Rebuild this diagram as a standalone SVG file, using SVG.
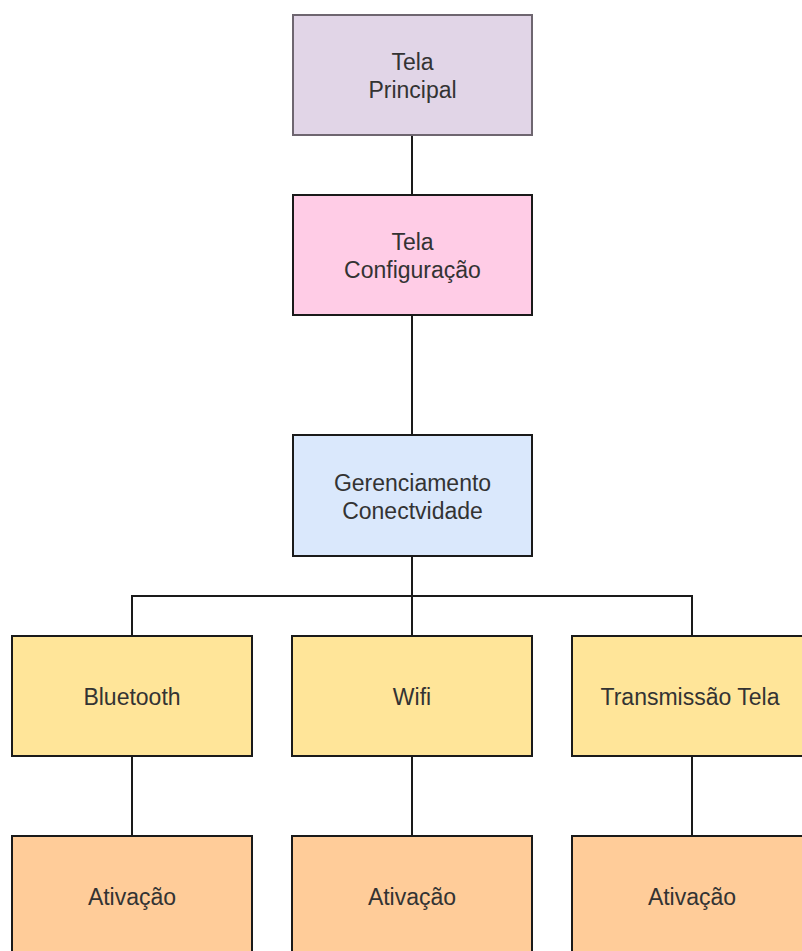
<svg xmlns="http://www.w3.org/2000/svg" width="802" height="951" viewBox="0 0 802 951">
<style>
.box{stroke:#1a1a1a;stroke-width:2}
.lbl{font-family:"Liberation Sans",Arial,sans-serif;font-size:23px;fill:#333;text-anchor:middle}
.conn{stroke:#1a1a1a;stroke-width:2;fill:none}
</style>
<rect width="802" height="951" fill="#fff"/>
<g id="connectors">
<line class="conn" x1="412" y1="135" x2="412" y2="195"/>
<line class="conn" x1="412" y1="315" x2="412" y2="435"/>
<polyline class="conn" points="412,556 412,596"/>
<polyline class="conn" points="132,636 132,596 692,596 692,636"/>
<line class="conn" x1="412" y1="596" x2="412" y2="636"/>
<line class="conn" x1="132" y1="756" x2="132" y2="836"/>
<line class="conn" x1="412" y1="756" x2="412" y2="836"/>
<line class="conn" x1="692" y1="756" x2="692" y2="836"/>
</g>
<g id="tela-principal">
<rect class="box" x="293" y="15" width="239" height="120" fill="#e1d5e7" style="stroke:#6e6670"/>
<text class="lbl" x="412.5" y="70">Tela</text>
<text class="lbl" x="412.5" y="98">Principal</text>
</g>
<g id="tela-configuracao">
<rect class="box" x="293" y="195" width="239" height="120" fill="#ffcce6"/>
<text class="lbl" x="412.5" y="250">Tela</text>
<text class="lbl" x="412.5" y="278">Configuração</text>
</g>
<g id="gerenciamento">
<rect class="box" x="293" y="435" width="239" height="121" fill="#dae8fc"/>
<text class="lbl" x="412.5" y="491">Gerenciamento</text>
<text class="lbl" x="412.5" y="519">Conectvidade</text>
</g>
<g id="bluetooth">
<rect class="box" x="12" y="636" width="240" height="120" fill="#ffe599"/>
<text class="lbl" x="132" y="705">Bluetooth</text>
</g>
<g id="wifi">
<rect class="box" x="292" y="636" width="240" height="120" fill="#ffe599"/>
<text class="lbl" x="412" y="705">Wifi</text>
</g>
<g id="transmissao">
<rect class="box" x="572" y="636" width="240" height="120" fill="#ffe599"/>
<text class="lbl" x="690" y="705">Transmissão Tela</text>
</g>
<g id="ativacao-1">
<rect class="box" x="12" y="836" width="240" height="120" fill="#ffcc99"/>
<text class="lbl" x="132" y="905">Ativação</text>
</g>
<g id="ativacao-2">
<rect class="box" x="292" y="836" width="240" height="120" fill="#ffcc99"/>
<text class="lbl" x="412" y="905">Ativação</text>
</g>
<g id="ativacao-3">
<rect class="box" x="572" y="836" width="240" height="120" fill="#ffcc99"/>
<text class="lbl" x="692" y="905">Ativação</text>
</g>
</svg>
